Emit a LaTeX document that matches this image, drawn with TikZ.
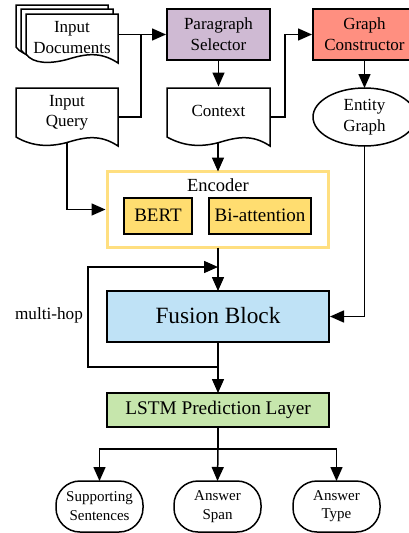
\documentclass[tikz,border=0pt]{standalone}
\usepackage{fontspec}
\setmainfont{Liberation Serif}
\usetikzlibrary{arrows.meta,shapes.geometric,calc}
\definecolor{selcol}{HTML}{CFBAD3}
\definecolor{gccol}{HTML}{FF8F80}
\definecolor{enccol}{HTML}{FFDF80}
\definecolor{bertcol}{HTML}{FFDD70}
\definecolor{fuscol}{HTML}{BFE2F6}
\definecolor{lstmcol}{HTML}{C6E6AC}
\tikzset{
  x=1pt,y=-1pt,
  base/.style={line width=1.5pt,draw=black,align=center,inner sep=0pt,outer sep=0pt},
  txt17/.style={font=\fontsize{17}{20.3}\selectfont},
  boxed/.style={base,txt17,rectangle},
  docbody/.style={align=center,inner sep=0pt,outer sep=0pt,txt17},
  docline/.style={line width=1.5pt,draw=black,fill=white,line join=miter},
  conn/.style={line width=1.5pt,draw=black},
  arr/.style={conn,-{Triangle[length=14pt,width=12pt]}},
  outnode/.style={base,rectangle,rounded corners=24pt,minimum width=87pt,minimum height=51pt,font=\fontsize{15}{18.3}\selectfont},
}
% document outline: left x, top y, right x, bottom y of the straight left edge
\newcommand{\docoutline}[4]{%
  \path[docline] (#1,#2) -- (#3,#2) -- (#3,#4+9)
    .. controls (#3-18,#4-3) and (#3-33,#4) .. (#3-51,#4+5.5)
    .. controls (#3-68,#4+10) and (#3-85,#4+10) .. (#1,#4) -- cycle;}
\begin{document}
\begin{tikzpicture}
\useasboundingbox (0,0) rectangle (409,533);
\clip (0,0) rectangle (409,533);
% documents
\docoutline{16}{5}{108}{47}
\docoutline{21}{9}{113}{50}
\docoutline{26}{14}{118}{54}
\docoutline{16}{88}{118}{137}
\docoutline{167}{88}{270}{137}
\node[docbody,minimum width=92pt,minimum height=46pt] (docs) at (72,37.5) {Input\\Documents};
\node[docbody,minimum width=102pt,minimum height=49pt] (query) at (67,112.5) {Input\\Query};
\node[docbody,minimum width=103pt,minimum height=49pt] (context) at (218.5,111) {Context};
\coordinate (querybottom) at (67,143);
\coordinate (contextbottom) at (218,143);
% top boxes
\node[boxed,fill=selcol,minimum width=103pt,minimum height=51pt,text depth=0pt] (sel) at (218.5,34.5) {\raisebox{1pt}{Paragraph}\\\raisebox{1pt}{Selector}};
\node[boxed,fill=gccol,minimum width=103pt,minimum height=51pt] (gc) at (364.5,34.5) {\raisebox{1pt}{Graph}\\\raisebox{1pt}{Constructor}};
\node[base,txt17,ellipse,fill=white,minimum width=103pt,minimum height=58pt] (eg) at (364.5,117) {\raisebox{-1pt}{Entity}\\\raisebox{-1.5pt}{Graph}};
% encoder
\node[rectangle,draw=enccol,line width=2.4pt,fill=white,minimum width=221pt,minimum height=76pt,inner sep=0pt,outer sep=0pt] (enc) at (218,209.5) {};
\node[font=\fontsize{18.5}{20}\selectfont,inner sep=0pt] (enclabel) at (218,185) {Encoder};
\node[base,fill=bertcol,minimum width=68pt,minimum height=36pt,font=\fontsize{19}{20}\selectfont] (bert) at (158,216) {\raisebox{1pt}{BERT}};
\node[base,fill=bertcol,minimum width=102pt,minimum height=36pt,font=\fontsize{19}{20}\selectfont] (bi) at (260,216) {\raisebox{1pt}{Bi-attention}};
% fusion, lstm
\node[base,fill=fuscol,minimum width=222pt,minimum height=51pt,font=\fontsize{23.3}{26}\selectfont] (fus) at (218,316.5) {\raisebox{3pt}{Fusion Block}};
\node[base,fill=lstmcol,minimum width=222pt,minimum height=34pt,font=\fontsize{19.3}{22}\selectfont] (lstm) at (218,410) {\raisebox{0.5pt}{LSTM Prediction Layer}};
\node[inner sep=0pt,font=\fontsize{17.2}{20}\selectfont] (mh) at (49,315) {multi-hop};
% outputs
\node[outnode] (o1) at (99.5,506.5) {\raisebox{1pt}{Supporting}\\\raisebox{1pt}{Sentences}};
\node[outnode] (o2) at (217.5,506.5) {\raisebox{1pt}{Answer}\\\raisebox{1pt}{Span}};
\node[outnode] (o3) at (336.5,506.5) {\raisebox{1pt}{Answer}\\\raisebox{1pt}{Type}};
% helper points
\coordinate (j1) at (218,267);
\coordinate (j2) at (218,367);
\coordinate (jq) at (141,117);
\coordinate (jc) at (285,117);
\coordinate (split) at (218,449);
% connectors
\draw[arr] (docs.east |- sel.west) -- ([xshift=-1pt]sel.west);
\draw[conn] (query.east |- jq) -- (jq) -- (jq |- sel.west);
\draw[arr] (sel.south) -- (context.north);
\draw[arr] (context.east |- jc) -- (jc) |- ([xshift=-1pt]gc.west);
\draw[arr] (gc.south) -- (eg.north);
\draw[arr] (querybottom) |- ([xshift=-2pt]enc.west);
\draw[arr] (contextbottom) -- (enc.north);
\draw[arr] (eg.south) |- ([xshift=1pt]fus.east);
\draw[arr] (enc.south) -- (fus.north);
\draw[arr] (j2) -- (88,367) -- (88,267) -- (j1);
\draw[arr] (fus.south) -- (lstm.north);
\draw[conn] (lstm.south) -- (split);
\draw[arr] (split) -| (o1.north);
\draw[arr] (split) -- (o2.north);
\draw[arr] (split) -| (o3.north);
\end{tikzpicture}
\end{document}
